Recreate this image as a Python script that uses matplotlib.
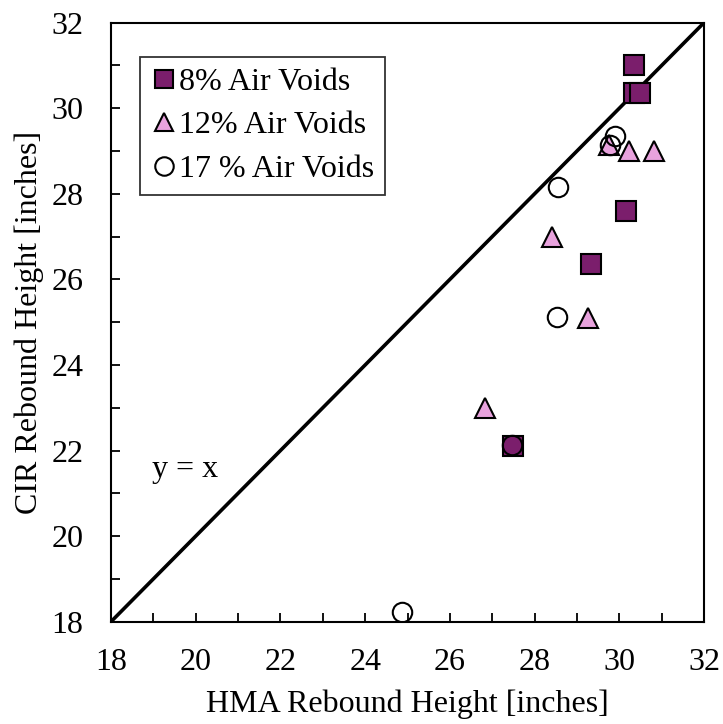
import matplotlib
matplotlib.use("Agg")
import matplotlib.pyplot as plt
from matplotlib.ticker import MultipleLocator

plt.rcParams['font.family'] = ['Liberation Serif', 'DejaVu Serif']

hma_8 = [30.35, 30.35, 30.5, 30.15, 29.33, 27.5]
cir_8 = [31.0, 30.35, 30.35, 27.6, 26.35, 22.1]
hma_12 = [30.24, 30.83, 29.75, 28.41, 29.25, 26.83]
cir_12 = [29.0, 29.0, 29.15, 27.0, 25.1, 23.0]
hma_17 = [29.89, 29.77, 28.55, 28.54, 27.46, 24.87]
cir_17 = [29.35, 29.15, 28.15, 25.12, 22.12, 18.23]
line_vals = [18, 32]

FS = 23

fig = plt.figure(figsize=(7.23, 7.24), dpi=100)
ax = fig.add_axes([111/723, 1 - 621.7/724, (704 - 111)/723, (621.7 - 22.7)/724])

ax.plot(line_vals, line_vals, color='black', lw=2.6, zorder=1)
ax.plot(hma_8, cir_8, ls='none', marker='s', ms=14, mfc='#7B1E6C', mec='black', mew=1.5, label='8% Air Voids', zorder=3)
ax.plot(hma_12, cir_12, ls='none', marker='^', ms=14, mfc='#E8A2DD', mec='black', mew=1.5, label='12% Air Voids', zorder=3)
ax.plot(hma_17, cir_17, ls='none', marker='o', ms=14, mfc='none', mec='black', mew=1.5, label='17 % Air Voids', zorder=4)

ax.text(19.75, 21.56, 'y = x', fontsize=FS, ha='center', va='center')

ax.set_xlim(18, 32)
ax.set_ylim(18, 32)
ax.xaxis.set_major_locator(MultipleLocator(2))
ax.yaxis.set_major_locator(MultipleLocator(2))
ax.xaxis.set_minor_locator(MultipleLocator(1))
ax.yaxis.set_minor_locator(MultipleLocator(1))
ax.tick_params(which='both', direction='in', length=6.5, width=1.3, labelsize=FS, top=False, right=False)
ax.tick_params(axis='x', which='major', pad=19)
ax.tick_params(axis='y', which='major', pad=20)
for s in ax.spines.values():
    s.set_linewidth(1.5)

ax.set_xlabel('HMA Rebound Height [inches]', fontsize=FS, labelpad=9)
ax.set_ylabel('CIR Rebound Height [inches]', fontsize=FS, labelpad=5)

leg = ax.legend(loc='upper left', bbox_to_anchor=(0.049, 0.943), fontsize=FS, frameon=True,
                fancybox=False, edgecolor='black', handletextpad=0.05, handlelength=0.85,
                borderpad=0.33, labelspacing=0.45, borderaxespad=0, markerscale=0.95)
leg.get_frame().set_linewidth(1.3)

fig.savefig('out.png', dpi=100)
